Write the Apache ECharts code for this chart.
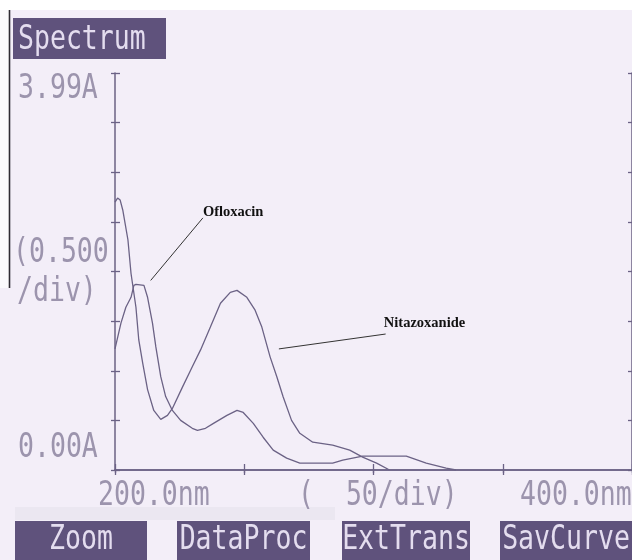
<!DOCTYPE html>
<html>
<head>
<meta charset="utf-8">
<script src="https://cdn.jsdelivr.net/npm/echarts@6/dist/echarts.min.js"></script>
<style>html,body{margin:0;padding:0;background:#f3eef8;}#chart{width:632px;height:560px;}</style>
</head>
<body>
<div id="chart"></div>
<script>
// ---- data ----
const nitazoxanideWl  = [200, 201, 202, 203, 205, 206.2, 208.1, 209.2, 210.7, 212.6, 215, 217.7, 220.3, 222.2, 226, 229.9, 233.1, 236.9, 240.8, 244.6, 247.2, 251, 254.2, 256.8, 260, 262.6, 265, 268.3, 271.5, 276.5, 284.2, 290.8, 295.8, 301.2, 306.2];
const nitazoxanideAbs = [2.70, 2.74, 2.72, 2.62, 2.32, 1.98, 1.64, 1.31, 1.08, 0.81, 0.60, 0.51, 0.55, 0.62, 0.83, 1.04, 1.21, 1.44, 1.68, 1.79, 1.81, 1.74, 1.61, 1.44, 1.14, 0.94, 0.74, 0.50, 0.37, 0.28, 0.25, 0.20, 0.13, 0.07, 0.0];
const ofloxacinWl  = [200, 202.3, 204.2, 206.2, 207.3, 208.1, 211.2, 212.6, 214.5, 215.8, 217.7, 219.6, 222.2, 225.4, 229.9, 231.9, 235, 238.1, 243.3, 247.2, 249.6, 253.5, 257.3, 261.2, 266.4, 271.5, 284.2, 288.1, 295.8, 312.7, 320.4, 328.1, 331.9];
const ofloxacinAbs = [1.22, 1.48, 1.64, 1.74, 1.86, 1.87, 1.86, 1.74, 1.48, 1.24, 0.94, 0.74, 0.60, 0.50, 0.42, 0.40, 0.42, 0.47, 0.55, 0.60, 0.58, 0.47, 0.33, 0.20, 0.12, 0.07, 0.07, 0.10, 0.14, 0.14, 0.07, 0.02, 0.0];

const seriesNames = ['Ofloxacin', 'Nitazoxanide'];
const titleText = 'Spectrum';
const yTickLabels = ['3.99A', '0.00A'];
const yScaleLabels = ['(0.500', '/div)'];
const xTickLabels = ['200.0nm', '400.0nm'];
const xScaleLabel = '(  50/div)';
const menuLabels = ['Zoom', 'DataProc', 'ExtTrans', 'SavCurve'];

// annotation anchors in data space: [label position], [leader start], [leader end]
const ofloxacinNote    = [[234, 2.60], [234.0, 2.54], [213.8, 1.91]];
const nitazoxanideNote = [[304, 1.48], [304.7, 1.37], [263.4, 1.22]];

function zip(a, b) { return a.map((v, i) => [v, b[i]]); }

const ink = '#6b6285';
const chart = echarts.init(document.getElementById('chart'), null, {renderer: 'canvas'});

const axisLine = {show: true, lineStyle: {color: ink, width: 1.5}};
const option = {
  animation: false,
  backgroundColor: '#f3eef8',
  grid: {left: 115, top: 73, right: -2, bottom: 90, containLabel: false},
  xAxis: [
    {type: 'value', min: 200, max: 400, interval: 50, position: 'bottom',
     axisLine: axisLine, axisTick: {show: true, inside: true, length: 6, lineStyle: {color: ink, width: 1.3}},
     axisLabel: {show: false}, splitLine: {show: false}},
    {type: 'value', min: 200, max: 400, interval: 50, position: 'top',
     axisLine: axisLine, axisTick: {show: true, inside: true, length: 5, lineStyle: {color: ink, width: 1.3}},
     axisLabel: {show: false}, splitLine: {show: false}},
    {type: 'value', min: 200, max: 400, interval: 50, position: 'bottom',
     axisLine: {show: false}, axisTick: {show: true, inside: false, length: 3, lineStyle: {color: ink, width: 1.3}},
     axisLabel: {show: false}, splitLine: {show: false}}
  ],
  yAxis: [
    {type: 'value', min: 0, max: 4, interval: 0.5, position: 'left',
     axisLine: axisLine, axisTick: {show: true, inside: true, length: 5, lineStyle: {color: ink, width: 1.3}},
     axisLabel: {show: false}, splitLine: {show: false}},
    {type: 'value', min: 0, max: 4, interval: 0.5, position: 'right',
     axisLine: axisLine, axisTick: {show: true, inside: true, length: 4, lineStyle: {color: ink, width: 1.3}},
     axisLabel: {show: false}, splitLine: {show: false}},
    {type: 'value', min: 0, max: 4, interval: 0.5, position: 'left',
     axisLine: {show: false}, axisTick: {show: true, inside: false, length: 4, lineStyle: {color: ink, width: 1.3}},
     axisLabel: {show: false}, splitLine: {show: false}}
  ],
  series: [
    {name: seriesNames[0], type: 'line', xAxisIndex: 0, yAxisIndex: 0, showSymbol: false, symbol: 'none',
     data: zip(ofloxacinWl, ofloxacinAbs), lineStyle: {color: ink, width: 1.3}},
    {name: seriesNames[1], type: 'line', xAxisIndex: 0, yAxisIndex: 0, showSymbol: false, symbol: 'none',
     data: zip(nitazoxanideWl, nitazoxanideAbs), lineStyle: {color: ink, width: 1.3}}
  ]
};
chart.setOption(option);

const mono = '34px "DejaVu Sans Mono"';
const txtGray = '#9c94ad';
const boxFill = '#5f527c';
const boxText = '#e4ddef';
function mt(str, x, y, fill, align) {
  return {type: 'text', x: x, y: y, scaleX: 0.78, z: 20,
    style: {text: str, font: mono, fill: fill, align: align || 'left', verticalAlign: 'middle',
            textAlign: align || 'left', textVerticalAlign: 'middle'}};
}
function px(p) { return chart.convertToPixel({xAxisIndex: 0, yAxisIndex: 0}, p); }

const g = [];
// scan artifacts
g.push({type: 'rect', shape: {x: 0, y: 0, width: 632, height: 10}, style: {fill: '#ffffff'}, z: 1});
g.push({type: 'rect', shape: {x: 0, y: 10, width: 9, height: 278}, style: {fill: '#fbfaFd'}, z: 1});
g.push({type: 'line', shape: {x1: 9.5, y1: 10, x2: 9.5, y2: 288}, style: {stroke: '#2e2b33', lineWidth: 1.6}, z: 2});
g.push({type: 'rect', shape: {x: 15, y: 507, width: 320, height: 13}, style: {fill: '#ebe7f1'}, z: 1});

// title box
g.push({type: 'rect', shape: {x: 13, y: 18, width: 153, height: 41}, style: {fill: boxFill}, z: 10});
g.push(mt(titleText, 18, 40, boxText));

// y labels
g.push(mt(yTickLabels[0], 18, 89, txtGray));
g.push(mt(yScaleLabels[0], 13, 253, txtGray));
g.push(mt(yScaleLabels[1], 17, 292, txtGray));
g.push(mt(yTickLabels[1], 18, 448, txtGray));
// x labels
g.push(mt(xTickLabels[0], 98, 496, txtGray));
g.push(mt(xScaleLabel, 298, 496, txtGray));
g.push(mt(xTickLabels[1], 520, 496, txtGray));

// menu buttons
const btns = [[15, 147], [177, 310], [342, 470], [500, 632]];
menuLabels.forEach((m, i) => {
  const b = btns[i];
  g.push({type: 'rect', shape: {x: b[0], y: 521, width: b[1] - b[0], height: 39}, style: {fill: boxFill}, z: 10});
  g.push(mt(m, (b[0] + b[1]) / 2, 540, boxText, 'center'));
});

// annotations
[[seriesNames[0], ofloxacinNote], [seriesNames[1], nitazoxanideNote]].forEach(([name, note]) => {
  const t = px(note[0]), a = px(note[1]), b = px(note[2]);
  g.push({type: 'line', shape: {x1: a[0], y1: a[1], x2: b[0], y2: b[1]}, style: {stroke: '#333', lineWidth: 1}, z: 15});
  g.push({type: 'text', x: t[0], y: t[1], z: 15,
    style: {text: name, font: 'bold 14.5px "Liberation Serif"', fill: '#111', align: 'left', verticalAlign: 'middle',
            textAlign: 'left', textVerticalAlign: 'middle'}});
});

chart.setOption({graphic: {elements: g}});
</script>
</body>
</html>
